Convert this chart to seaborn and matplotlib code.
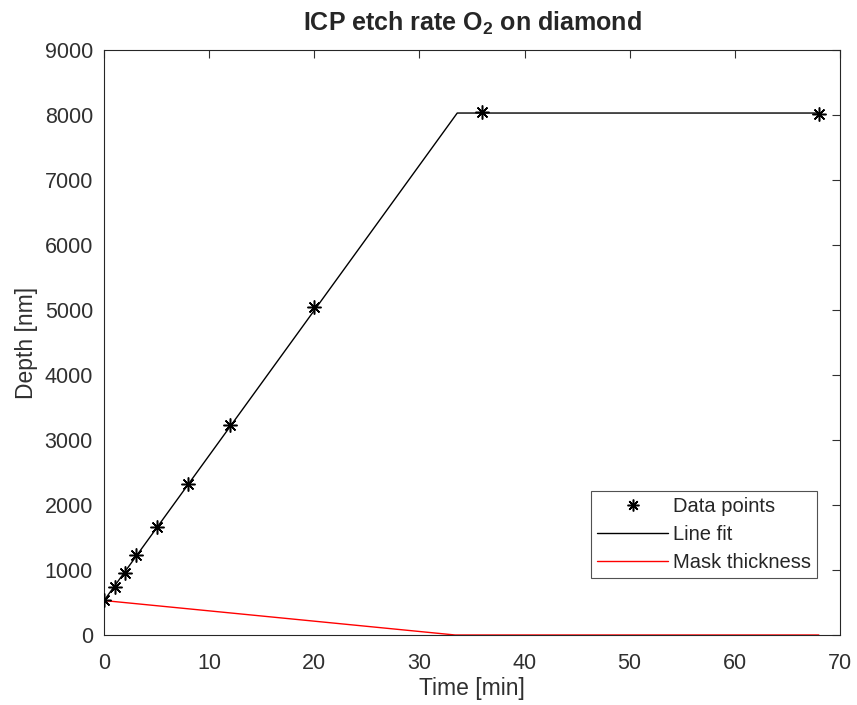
import matplotlib
matplotlib.use("Agg")
import matplotlib.pyplot as plt
import seaborn as sns
import pandas as pd

# measured etch depth
time_pts = [0, 1, 2, 3, 5, 8, 12, 20, 36, 68]
depth_pts = [535, 740, 955, 1225, 1665, 2325, 3235, 5040, 8040, 8020]

# piecewise linear fit (etch until mask is gone)
fit_time = [0, 33.6, 68]
fit_depth = [530, 8030, 8030]

# mask thickness
mask_time = [0, 33.4, 68]
mask_thick = [530, 0, 0]

x_ticks = [0, 10, 20, 30, 40, 50, 60, 70]
y_ticks = [0, 1000, 2000, 3000, 4000, 5000, 6000, 7000, 8000, 9000]


def plot_etch():
    sns.set_style("white")
    plt.rcParams['font.family'] = ['Liberation Sans', 'DejaVu Sans']
    plt.rcParams['mathtext.fontset'] = 'custom'
    plt.rcParams['mathtext.rm'] = 'Liberation Sans'
    plt.rcParams['mathtext.bf'] = 'Liberation Sans:bold'

    fig = plt.figure(figsize=(8.57, 7.05), dpi=100)
    ax = fig.add_axes([0.1214, 0.0993, 0.8586, 0.8298])

    pts = pd.DataFrame({'t': time_pts, 'd': depth_pts})
    fit = pd.DataFrame({'t': fit_time, 'd': fit_depth})
    mask = pd.DataFrame({'t': mask_time, 'd': mask_thick})

    sns.lineplot(data=fit, x='t', y='d', ax=ax, color='black', lw=1.0,
                 label='Line fit', zorder=2)
    sns.lineplot(data=mask, x='t', y='d', ax=ax, color='red', lw=1.0,
                 label='Mask thickness', zorder=2)
    ax.plot(pts['t'], pts['d'], ls='none', marker=(8, 2, 0), ms=10,
            mew=1.1, color='black', label='Data points', zorder=3)

    ax.set_xlim(0, 70)
    ax.set_ylim(0, 9000)
    ax.set_xticks(x_ticks)
    ax.set_yticks(y_ticks)
    ax.tick_params(direction='in', length=6, width=0.8, colors='#303030',
                   labelsize=15.5, top=True, right=True)
    ax.tick_params(axis='x', pad=13)
    ax.tick_params(axis='y', pad=8)
    for s in ax.spines.values():
        s.set_color('#262626')
        s.set_linewidth(0.8)
        s.set_visible(True)

    ax.set_xlabel('Time [min]', fontsize=16.5, color='#303030', labelpad=2)
    ax.set_ylabel('Depth [nm]', fontsize=16.5, color='#303030', labelpad=5)
    ax.set_title(r'ICP etch rate O$_{\mathbf{2}}$ on diamond', fontsize=18,
                 fontweight='bold', pad=14)

    h, l = ax.get_legend_handles_labels()
    order = [l.index('Data points'), l.index('Line fit'), l.index('Mask thickness')]
    leg = ax.legend([h[i] for i in order], [l[i] for i in order],
                    loc='lower right', bbox_to_anchor=(0.9688, 0.0974),
                    fontsize=14.5, frameon=True, fancybox=False,
                    edgecolor='#262626', borderpad=0.3, handlelength=3.5,
                    handletextpad=0.25, labelspacing=0.45, borderaxespad=0,
                    markerscale=0.85)
    leg.get_frame().set_linewidth(0.8)

    fig.savefig('out.png', dpi=100)


if __name__ == "__main__":
    plot_etch()
